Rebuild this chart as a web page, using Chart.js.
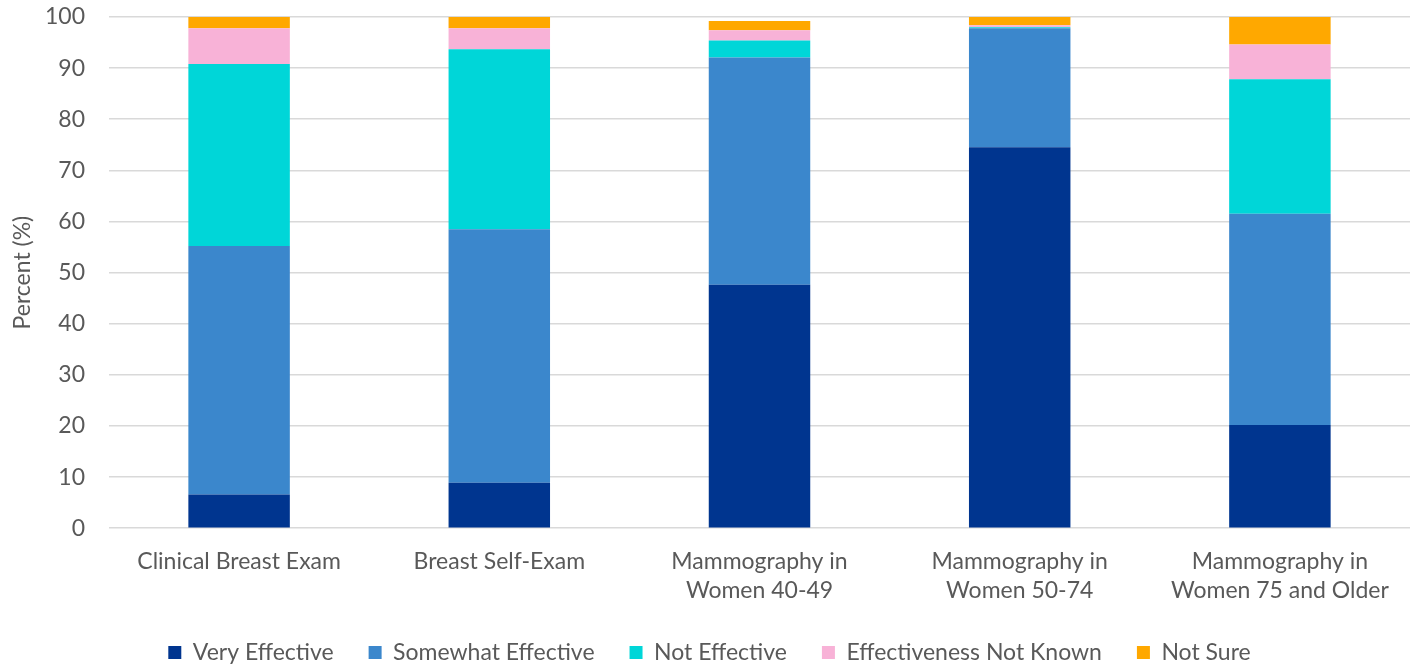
<!DOCTYPE html>
<html>
<head>
<meta charset="utf-8">
<script src="https://cdn.jsdelivr.net/npm/chart.js@4"></script>
<style>
html,body{margin:0;padding:0;background:#fff;}
#wrap{width:1413px;height:668px;}
</style>
</head>
<body>
<div id="wrap"><canvas id="c" width="1413" height="668"></canvas></div>
<script>
const categories = [
  'Clinical Breast Exam',
  'Breast Self-Exam',
  ['Mammography in', 'Women 40-49'],
  ['Mammography in', 'Women 50-74'],
  ['Mammography in', 'Women 75 and Older']
];
const veryEffective = [6.6, 8.9, 47.6, 74.5, 20.2];
const somewhatEffective = [48.6, 49.6, 44.5, 23.3, 41.3];
const notEffective = [35.6, 35.2, 3.3, 0.2, 26.3];
const effectivenessNotKnown = [7.0, 4.1, 2.0, 0.4, 6.8];
const notSure = [2.2, 2.2, 1.8, 1.6, 5.4];
const yTicks = [0, 10, 20, 30, 40, 50, 60, 70, 80, 90, 100];

const FONT = 'Lato, "Open Sans", sans-serif';
const TXT = '#595959';

function ds(label, data, color) {
  return { label, data, backgroundColor: color, borderWidth: 0,
           categoryPercentage: 1.0, barPercentage: 0.39 };
}

const LEGEND_SHRINK = 24;
const LEGEND_LIFT = 18;
const legendTweak = {
  id: 'legendTweak',
  beforeInit(chart) {
    const lg = chart.legend;
    if (!lg) return;
    const origFit = lg.fit;
    lg.fit = function () { origFit.call(this); this.height -= LEGEND_SHRINK; };
    const origDraw = lg.draw;
    lg.draw = function () {
      const t = this.top, b = this.bottom;
      this.top = t - LEGEND_LIFT;
      this.bottom = chart.height;
      origDraw.apply(this, arguments);
      this.top = t; this.bottom = b;
    };
  }
};

new Chart(document.getElementById('c'), {
  type: 'bar',
  data: {
    labels: categories,
    datasets: [
      ds('Very Effective', veryEffective, '#00358f'),
      ds('Somewhat Effective', somewhatEffective, '#3b87cc'),
      ds('Not Effective', notEffective, '#00d6d8'),
      ds('Effectiveness Not Known', effectivenessNotKnown, '#f8b2d7'),
      ds('Not Sure', notSure, '#ffa800')
    ]
  },
  plugins: [legendTweak],
  options: {
    responsive: false,
    animation: false,
    layout: { padding: { top: 0, right: 3, left: 9, bottom: 0 } },
    plugins: {
      tooltip: { enabled: false },
      legend: {
        position: 'bottom',
        labels: {
          font: { family: FONT, size: 23 },
          color: TXT,
          boxWidth: 13,
          boxHeight: 13,
          padding: 35,
          useBorderRadius: false
        }
      }
    },
    scales: {
      x: {
        stacked: true,
        grid: { display: false, drawTicks: false },
        border: { display: false },
        ticks: { font: { family: FONT, size: 23, lineHeight: 1.3 }, color: TXT, padding: 18, maxRotation: 0, autoSkip: false },
        afterFit: (s) => { s.paddingLeft = 0; s.paddingRight = 0; }
      },
      y: {
        stacked: true,
        min: 0, max: 100,
        afterBuildTicks: (axis) => { axis.ticks = yTicks.map(v => ({ value: v })); },
        afterFit: (s) => { s.paddingTop = 17; s.width = 100; },
        grid: { color: '#d9d9d9', lineWidth: 1.5, drawTicks: false },
        border: { display: false },
        ticks: { font: { family: FONT, size: 23 }, color: TXT, padding: 24 },
        title: { display: true, text: 'Percent (%)', font: { family: FONT, size: 23 }, color: TXT, padding: { bottom: 9, top: 0 } }
      }
    }
  }
});
</script>
</body>
</html>
